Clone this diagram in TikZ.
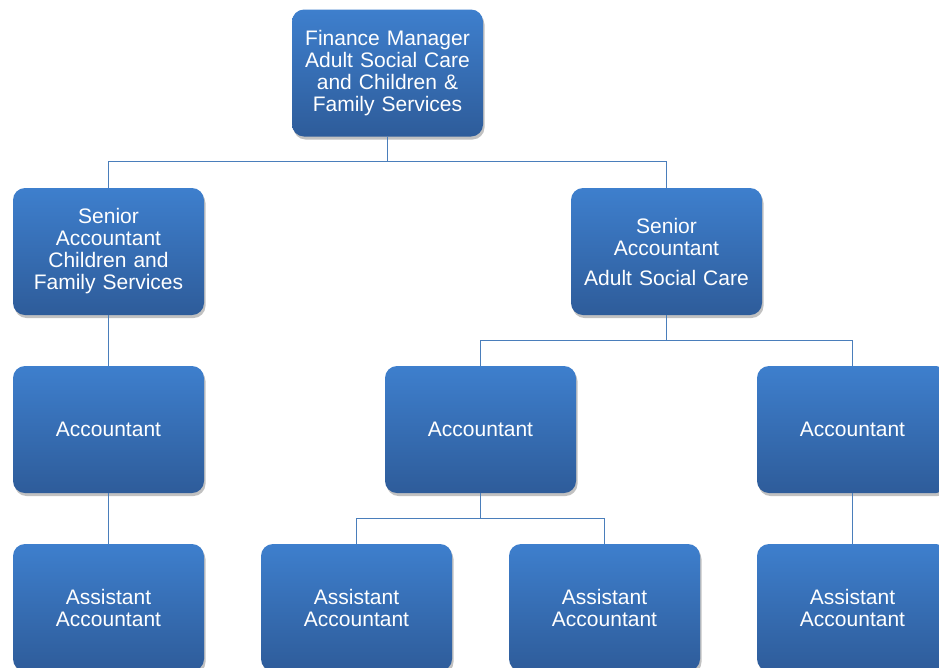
\documentclass[tikz,border=0pt]{standalone}
\usepackage{fontspec}
\setmainfont{Liberation Sans}
\usepackage{xcolor}
\usetikzlibrary{shadows}

\definecolor{posttop}{HTML}{3E7FCD}
\definecolor{postbot}{HTML}{2E5C9A}
\definecolor{linkblue}{HTML}{4A7EBB}

\tikzset{
  post/.style={rectangle, rounded corners=12pt, minimum width=191pt, minimum height=127pt,
    text width=180pt, align=center, text=white, top color=posttop, bottom color=postbot,
    draw=none, font=\fontsize{21}{22}\selectfont,
    drop shadow={shadow xshift=1.5pt, shadow yshift=-3pt, opacity=0.3, fill=black!80}},
  link/.style={draw=linkblue, line width=1.4pt}
}

\begin{document}
\begin{tikzpicture}[x=1pt,y=1pt]
	\useasboundingbox (0,0) rectangle (939,-667);
	\fill[white] (0,0) rectangle (939,-667);
	
	% posts
	\node [post] (fm) at (387.5,-73) {\raisebox{-2pt}{\parbox{180pt}{\centering Finance Manager\\Adult Social Care\\and Children \&\\Family Services}}};
	
	\node [post] (scf) at (108.5,-251.5) {Senior\\Accountant\\Children and\\Family Services};
	\node [post] (sasc) at (666.5,-251.5) {Senior\\Accountant\\[8pt]Adult Social Care};
	
	\node [post] (acf) at (108.5,-429.5) {Accountant};
	\node [post] (asca) at (480.5,-429.5) {Accountant};
	\node [post] (ascb) at (852.5,-429.5) {Accountant};
	
	\node [post] (aacf) at (108.5,-607.5) {Assistant\\Accountant};
	\node [post] (aasa) at (356.5,-607.5) {Assistant\\Accountant};
	\node [post] (aasb) at (604.5,-607.5) {Assistant\\Accountant};
	\node [post] (aasc) at (852.5,-607.5) {Assistant\\Accountant};
	
	% reporting lines
	\draw [link] (fm.south) -- ++(0,-25) -| (scf.north);
	\draw [link] (fm.south) -- ++(0,-25) -| (sasc.north);
	\draw [link] (sasc.south) -- ++(0,-25) -| (asca.north);
	\draw [link] (sasc.south) -- ++(0,-25) -| (ascb.north);
	\draw [link] (asca.south) -- ++(0,-25) -| (aasa.north);
	\draw [link] (asca.south) -- ++(0,-25) -| (aasb.north);
	\draw [link] (scf.south) -- (acf.north);
	\draw [link] (acf.south) -- (aacf.north);
	\draw [link] (ascb.south) -- (aasc.north);
\end{tikzpicture}
\end{document}
